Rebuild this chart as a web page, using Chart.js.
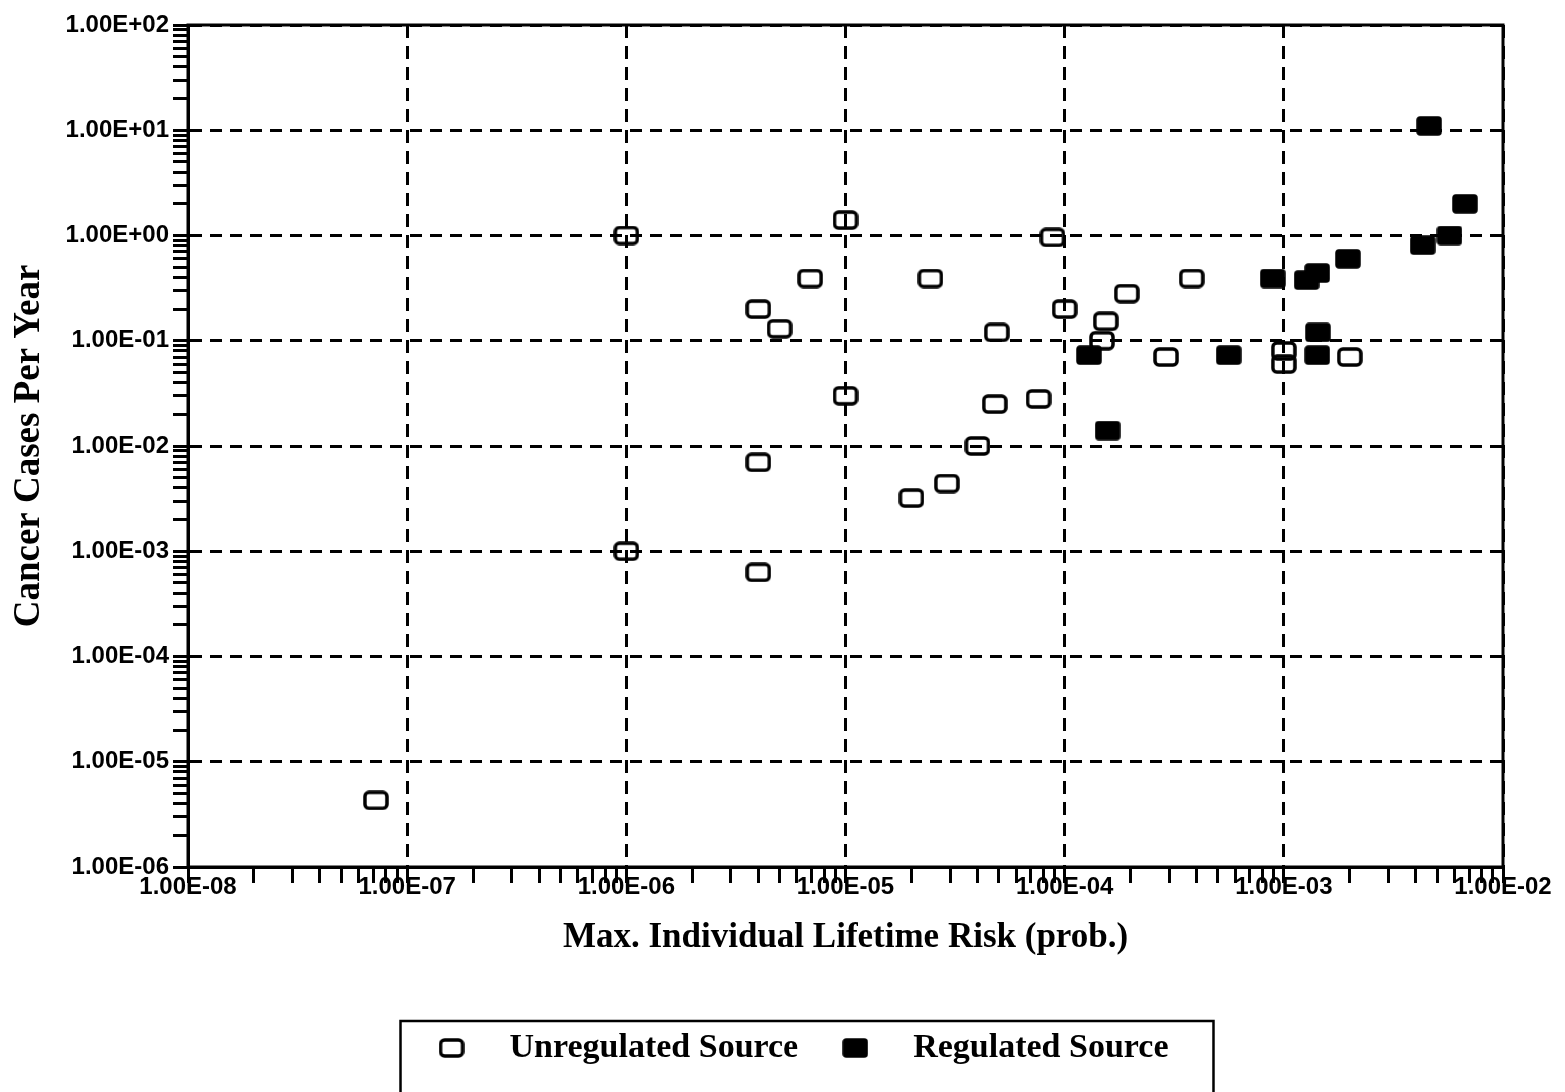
<!doctype html>
<html lang="en">
<head>
  <meta charset="UTF-8">
  <title>Cancer Cases Per Year vs Max. Individual Lifetime Risk</title>
  <script src="https://cdn.jsdelivr.net/npm/chart.js@4.4.1/dist/chart.umd.min.js"></script>
  <style>
    html, body { margin: 0; padding: 0; background: #fff; }
  </style>
</head>
<body>
  <canvas id="canvas" width="1565" height="1092"></canvas>
  <script>
    // max individual lifetime risk (x) and cancer cases per year (y)
    const unregRisk  = [7.2e-8, 1e-6, 1e-6, 4.0e-6, 5.0e-6, 6.9e-6, 4.0e-6, 4.0e-6, 1e-5, 1e-5,
                        2.44e-5, 4.9e-5, 4.8e-5, 4.0e-5, 2.0e-5, 2.9e-5, 7.6e-5, 8.8e-5, 1e-4, 1.48e-4,
                        1.54e-4, 1.92e-4, 2.9e-4, 3.8e-4, 1e-3, 1e-3, 2.0e-3];
    const unregCases = [4.3e-6, 1.0, 1e-3, 0.2, 0.13, 0.39, 0.007, 6.3e-4, 1.4, 0.030,
                        0.39, 0.12, 0.025, 0.010, 0.0032, 0.0044, 0.028, 0.96, 0.2, 0.1,
                        0.153, 0.28, 0.07, 0.39, 0.08, 0.06, 0.07];
    const regRisk  = [1.29e-4, 1.57e-4, 5.6e-4, 8.9e-4, 1.27e-3, 1.42e-3, 1.43e-3, 1.42e-3, 1.96e-3,
                      4.3e-3, 5.7e-3, 6.7e-3, 4.6e-3];
    const regCases = [0.073, 0.014, 0.073, 0.39, 0.377, 0.44, 0.12, 0.073, 0.6,
                      0.81, 1.0, 2.0, 11];

    const seriesNames = ['Unregulated Source', 'Regulated Source'];
    const xExpRange = [-8, -2];   // 1.00E-08 .. 1.00E-02
    const yExpRange = [-6, 2];    // 1.00E-06 .. 1.00E+02

    const toPoints = (xs, ys) => xs.map((x, i) => ({x: x, y: ys[i]}));

    // rounded square markers like the scanned plot
    const makeMarker = filled => {
      const c = document.createElement('canvas');
      c.width = 26; c.height = 20;
      const g = c.getContext('2d');
      g.beginPath();
      g.roundRect(2, 2, 22, 16, filled ? 2 : 4);
      if (filled) {
        g.fillStyle = '#000';
        g.fill();
      }
      g.lineWidth = 3.5;
      g.strokeStyle = '#000';
      g.stroke();
      return c;
    };

    const sciLabel = v => {
      const e = Math.round(Math.log10(v));
      return '1.00E' + (e < 0 ? '-' : '+') + String(Math.abs(e)).padStart(2, '0');
    };

    const decadeTicks = range => scale => {
      const ticks = [];
      for (let e = range[0]; e <= range[1]; e++) {
        for (let s = 1; s <= 9; s++) {
          if (e === range[1] && s > 1) break;
          ticks.push({value: s * Math.pow(10, e), major: s === 1});
        }
      }
      scale.ticks = ticks;
    };

    const gridColor = ctx => (ctx.tick && ctx.tick.major) ? '#000' : 'rgba(0,0,0,0)';
    const tickFont = {family: 'Liberation Sans', size: 24, weight: 'bold'};
    const titleFont = {family: 'Liberation Serif', size: 34, weight: 'bold'};

    const framePlugin = {
      id: 'frame',
      afterLayout(chart) {
        // legend sits a bit right of centre in the original
        chart.legend.left += 38;
        chart.legend.right += 38;
      },
      afterDraw(chart) {
        const {ctx, chartArea: a, legend} = chart;
        ctx.save();
        ctx.strokeStyle = '#000';
        ctx.lineWidth = 3;
        ctx.strokeRect(a.left, a.top, a.right - a.left, a.bottom - a.top);
        const hb = legend.legendHitBoxes;
        if (hb && hb.length) {
          const first = hb[0], last = hb[hb.length - 1];
          const l = first.left - 10, r = last.left + last.width + 45, t = first.top - 10;
          ctx.lineWidth = 2.5;
          ctx.strokeRect(l, t, r - l, chart.height - t + 10);
        }
        ctx.restore();
      }
    };

    new Chart(document.getElementById('canvas'), {
      type: 'scatter',
      data: {
        datasets: [
          {
            label: seriesNames[0],
            data: toPoints(unregRisk, unregCases),
            pointStyle: makeMarker(false),
            borderColor: '#000',
            backgroundColor: '#000'
          },
          {
            label: seriesNames[1],
            data: toPoints(regRisk, regCases),
            pointStyle: makeMarker(true),
            borderColor: '#000',
            backgroundColor: '#000'
          }
        ]
      },
      options: {
        responsive: false,
        animation: false,
        layout: {padding: {top: 25, right: 62, left: 0, bottom: 17}},
        scales: {
          x: {
            type: 'logarithmic',
            min: Math.pow(10, xExpRange[0]),
            max: Math.pow(10, xExpRange[1]),
            afterBuildTicks: decadeTicks(xExpRange),
            afterFit: scale => { scale.height = 148; },
            grid: {color: gridColor, lineWidth: 3, tickColor: '#000', tickLength: 16, tickWidth: 3},
            border: {display: true, color: '#000', width: 3, dash: [13, 8]},
            ticks: {
              autoSkip: false, maxRotation: 0, padding: -10, color: '#000', font: tickFont,
              callback: (v, i, ticks) => ticks[i].major ? sciLabel(v) : ''
            },
            title: {display: true, text: 'Max. Individual Lifetime Risk (prob.)', color: '#000',
                    font: {family: 'Liberation Serif', size: 35, weight: 'bold'}, padding: {top: 0, bottom: 56}}
          },
          y: {
            type: 'logarithmic',
            min: Math.pow(10, yExpRange[0]),
            max: Math.pow(10, yExpRange[1]),
            afterBuildTicks: decadeTicks(yExpRange),
            afterFit: scale => { scale.width = 188; },
            grid: {color: gridColor, lineWidth: 3, tickColor: '#000', tickLength: 15, tickWidth: 3},
            border: {display: true, color: '#000', width: 3, dash: [12, 8]},
            ticks: {
              autoSkip: false, padding: 4, color: '#000', font: tickFont,
              callback: (v, i, ticks) => ticks[i].major ? sciLabel(v) : ''
            },
            title: {display: true, text: 'Cancer Cases Per Year', color: '#000',
                    font: {family: 'Liberation Serif', size: 37, weight: 'bold'}, padding: {top: 7, bottom: 0}}
          }
        },
        plugins: {
          legend: {
            position: 'bottom',
            labels: {
              usePointStyle: true, pointStyleWidth: 82, padding: 16, color: '#000', font: titleFont
            }
          },
          tooltip: {enabled: false}
        }
      },
      plugins: [framePlugin]
    });
  </script>
</body>
</html>
